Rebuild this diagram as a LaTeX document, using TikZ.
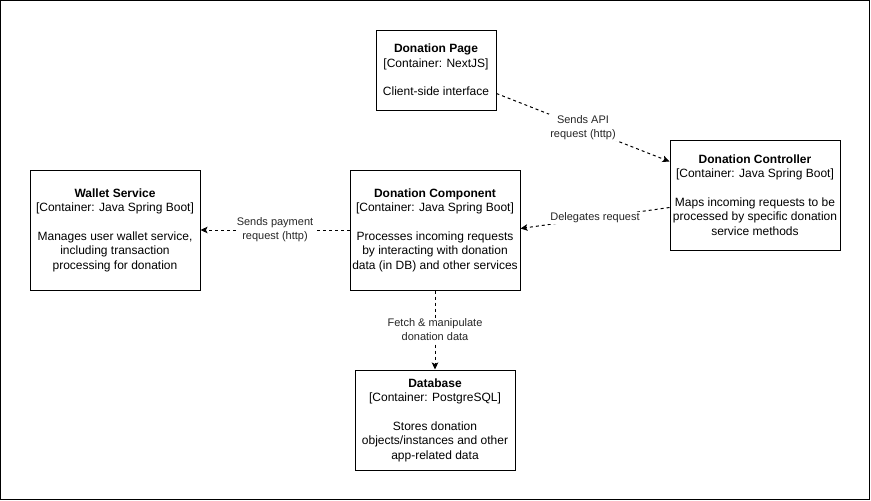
\documentclass[tikz,border=0pt]{standalone}
\usepackage{fontspec}
\setmainfont{Liberation Sans}
\usetikzlibrary{arrows.meta,calc}
\begin{document}
\begin{tikzpicture}[x=1pt,y=-1pt,
  container/.style={draw=black, line width=1pt, fill=white, inner sep=0pt, align=center,
    font=\fontsize{12}{14.4}\selectfont},
  flow/.style={draw=black, line width=1pt, dash pattern=on 3pt off 3pt,
    -{Stealth[length=7pt,width=6.5pt,inset=1.5pt]}},
  flowlabel/.style={fill=white, inner sep=1pt, align=center, text=black!85,
    font=\fontsize{11}{14}\selectfont}]
\useasboundingbox (0,0) rectangle (871,501);
% frame around the whole diagram
\draw[line width=1pt] (0.5,0.5) rectangle (869.5,499.5);

% containers
\node[container, minimum width=120pt, minimum height=80pt] (page) at (436,70)
  {\textbf{Donation Page}\\\relax[Container: NextJS]\\[14.4pt]Client-side interface};
\node[container, minimum width=170pt, minimum height=110pt] (ctrl) at (755,195)
  {\textbf{Donation Controller}\\\relax[Container: Java Spring Boot]\\[14.4pt]Maps incoming requests to be\\processed by specific donation\\service methods};
\node[container, minimum width=170pt, minimum height=120pt] (comp) at (435,230)
  {\textbf{Donation Component}\\\relax[Container: Java Spring Boot]\\[14.4pt]Processes incoming requests\\by interacting with donation\\data (in DB) and other services};
\node[container, minimum width=170pt, minimum height=120pt] (wallet) at (115,230)
  {\textbf{Wallet Service}\\\relax[Container: Java Spring Boot]\\[14.4pt]Manages user wallet service,\\including transaction\\processing for donation};
\node[container, minimum width=160pt, minimum height=100pt] (db) at (435,420)
  {\textbf{Database}\\\relax[Container: PostgreSQL]\\[14.4pt]Stores donation\\objects/instances and other\\app-related data};

% connectors
\draw[flow] ($(page.north east)+(0,64)$) -- node[flowlabel] {Sends API\\request (http)} ($(ctrl.north west)+(0,22)$);
\draw[flow] ($(ctrl.north west)+(0,68)$) -- node[flowlabel] {Delegates request} ($(comp.north east)+(0,59)$);
\draw[flow] (comp.west) -- node[flowlabel] {Sends payment\\request (http)} (wallet.east);
\draw[flow] (comp.south) -- node[flowlabel] {Fetch \& manipulate\\donation data} (db.north);
\end{tikzpicture}
\end{document}
